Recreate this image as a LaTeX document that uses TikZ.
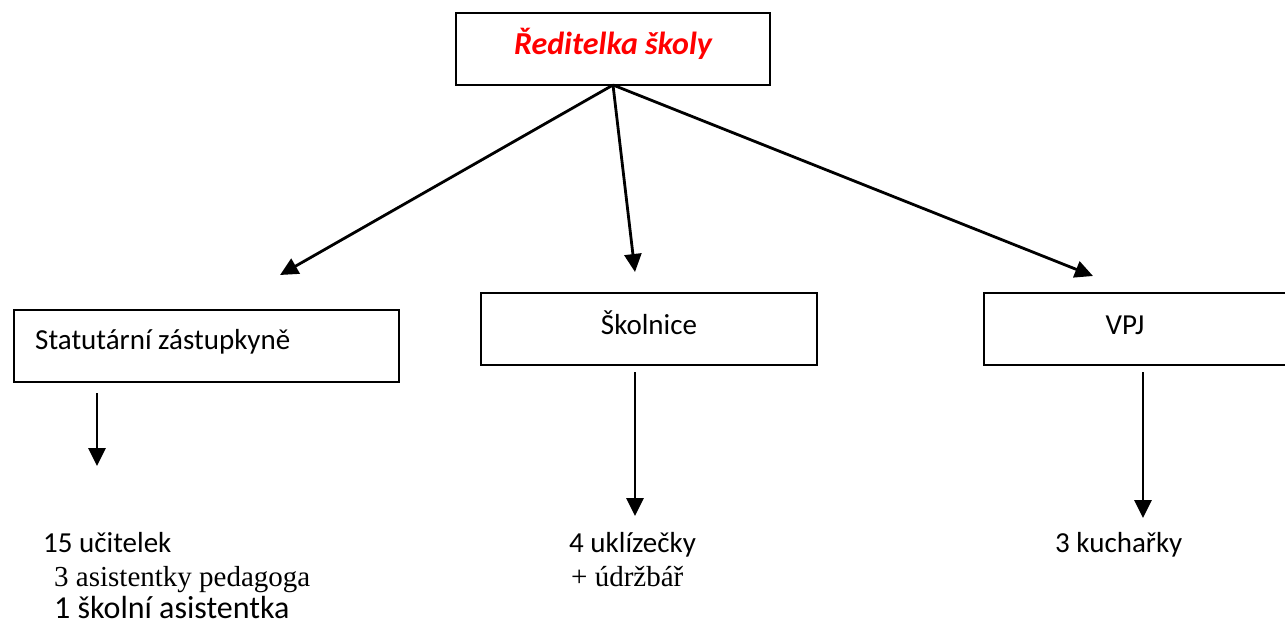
\documentclass[tikz,border=0pt]{standalone}
\usepackage{fontspec}
\setmainfont{Carlito}
\newfontfamily\seriffont{Liberation Serif}
\usetikzlibrary{arrows.meta}
\begin{document}
\begin{tikzpicture}[x=1pt,y=-1pt,
  box/.style={draw,line width=2.1pt,inner sep=0pt},
  conn/.style={line width=2.8pt,-{Triangle[length=18pt,width=17pt]}},
  lbl/.style={inner sep=0pt,anchor=base west,font=\fontsize{29}{34}\selectfont},
  slbl/.style={inner sep=0pt,anchor=base west,font=\seriffont\fontsize{29}{34}\selectfont},
  clbl/.style={inner sep=0pt,anchor=base,font=\fontsize{29}{34}\selectfont}]
\useasboundingbox (0,0) rectangle (1285,625);
\node[box,minimum width=314pt,minimum height=72pt] (top) at (613,49) {};
\node[inner sep=0pt,anchor=base,font=\bfseries\itshape\fontsize{32}{38}\selectfont,text=red] (toptxt) at (613,54) {Ředitelka školy};
\node[box,minimum width=385pt,minimum height=72pt] (stat) at (206.5,346) {};
\node[lbl] (stattxt) at (35,349) {Statutární zástupkyně};
\node[box,minimum width=336pt,minimum height=72pt] (skol) at (649,329) {};
\node[clbl] (skoltxt) at (649,334) {Školnice};
\node[box,minimum width=310pt,minimum height=72pt] (vpj) at (1139,329) {};
\node[clbl] (vpjtxt) at (1125,334) {VPJ};
\coordinate (topb) at (613,85);
\coordinate (a1) at (280,275);
\coordinate (a2) at (635,272);
\coordinate (a3) at (1093,276);
\draw[conn] (topb) -- (a1);
\draw[conn] (topb) -- (a2);
\draw[conn] (topb) -- (a3);
\coordinate (s1) at (97,393);
\coordinate (s2) at (97,466);
\draw[conn] (s1) -- (s2);
\coordinate (k1) at (635,372);
\coordinate (k2) at (635,516);
\draw[conn] (k1) -- (k2);
\coordinate (v1) at (1143,372);
\coordinate (v2) at (1143,518);
\draw[conn] (v1) -- (v2);
\node[lbl] (t1) at (43,552) {15 učitelek};
\node[slbl] (t2) at (54,586) {3 asistentky pedagoga};
\node[lbl,font=\fontsize{32}{38}\selectfont] (t3) at (54,618) {1 školní asistentka};
\node[lbl] (t4) at (569,552) {4 uklízečky};
\node[slbl] (t5) at (571,586) {+ údržbář};
\node[lbl] (t6) at (1055,552) {3 kuchařky};
\end{tikzpicture}
\end{document}
